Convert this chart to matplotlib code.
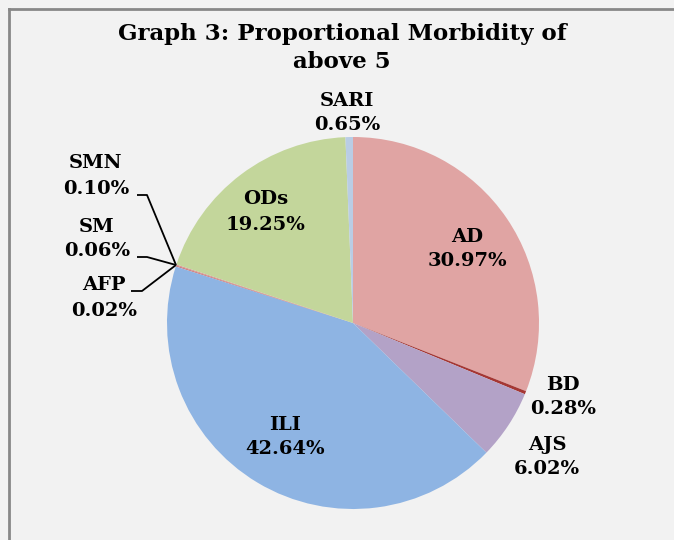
import matplotlib
matplotlib.use("Agg")
import matplotlib.pyplot as plt
from matplotlib.lines import Line2D

# data
labels = ["AD", "BD", "AJS", "ILI", "AFP", "SM", "SMN", "ODs", "SARI"]
values = [30.97, 0.28, 6.02, 42.64, 0.02, 0.06, 0.10, 19.25, 0.65]
colors = ["#E0A4A3", "#A53734", "#B3A2C7", "#8EB4E3", "#E6B9B8",
          "#C0504D", "#D99694", "#C3D69B", "#B9CDE5"]
title = "Graph 3: Proportional Morbidity of\nabove 5"

W, H = 674, 540
BG = "#F2F2F2"
FONT = "DejaVu Serif"

fig = plt.figure(figsize=(W / 100, H / 100), dpi=100, facecolor=BG)
ax = fig.add_axes([0, 0, 1, 1])

cx, cy, r = 353, H - 323, 186
ax.pie(values, colors=colors, startangle=90, counterclock=False,
       center=(cx, cy), radius=r, wedgeprops=dict(linewidth=0),
       frame=True)
ax.set_xlim(0, W)
ax.set_ylim(0, H)
ax.set_aspect("equal")
ax.axis("off")

# label positions (pixel coords from top-left)
label_pos = {
    "AD": (467, 249), "BD": (563, 397), "AJS": (547, 457),
    "ILI": (285, 437), "AFP": (104, 298), "SM": (97, 239),
    "SMN": (96, 176), "ODs": (266, 212), "SARI": (347, 113),
}
for lab, val in zip(labels, values):
    x, y = label_pos[lab]
    ax.text(x, H - y, f"{lab}\n{val:.2f}%", ha="center", va="center",
            fontsize=14, fontweight="bold", family=FONT,
            linespacing=1.5, color="black")

# leader lines
tip = (176, 265)
for pts in [[(137, 195), (147, 195)], [(137, 257), (147, 257)],
            [(131, 291), (142, 291)]]:
    xs = [p[0] for p in pts] + [tip[0]]
    ys = [H - p[1] for p in pts] + [H - tip[1]]
    ax.plot(xs, ys, color="black", lw=1.3, solid_capstyle="butt")

ax.text(342, H - 48, title, ha="center", va="center", fontsize=16.5,
        fontweight="bold", family=FONT, linespacing=1.4)

# chart frame
fig.add_artist(Line2D([8.5 / W, 8.5 / W], [0, 1 - 8.5 / H], color="#888888",
                      lw=2, transform=fig.transFigure))
fig.add_artist(Line2D([8.5 / W, 1], [1 - 8.5 / H, 1 - 8.5 / H], color="#888888",
                      lw=2, transform=fig.transFigure))

fig.savefig("out.png", dpi=100, facecolor=BG)
